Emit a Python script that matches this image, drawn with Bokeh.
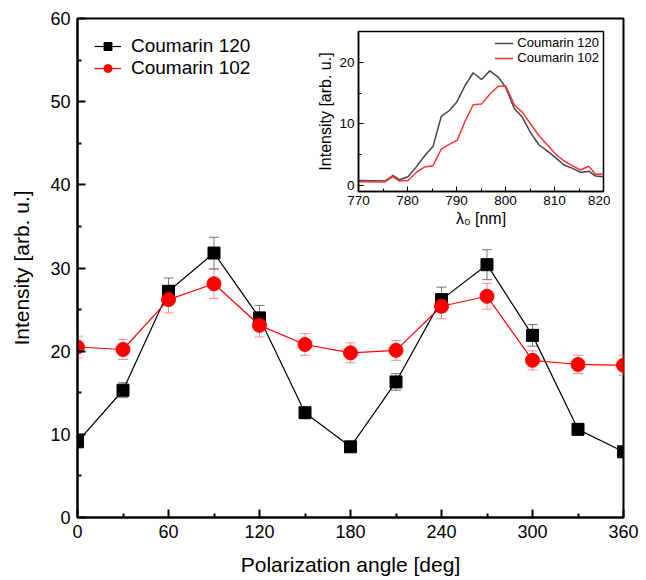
from bokeh.plotting import figure
from bokeh.models import FixedTicker, Whisker, ColumnDataSource, TeeHead, Legend, LegendItem
from bokeh.embed import file_html
from bokeh.resources import INLINE

# ---- main data ----
angles = [0, 30, 60, 90, 120, 150, 180, 210, 240, 270, 300, 330, 360]
c120 = [9.1, 15.3, 27.2, 31.8, 24.0, 12.6, 8.5, 16.3, 26.2, 30.4, 21.9, 10.6, 7.9]
c120_err = [0.5, 0.9, 1.6, 1.9, 1.5, 0.7, 0.4, 1.0, 1.5, 1.8, 1.3, 0.6, 0.5]
c102 = [20.5, 20.2, 26.2, 28.1, 23.1, 20.8, 19.8, 20.1, 25.4, 26.6, 18.9, 18.4, 18.3]
c102_err = [1.3, 1.2, 1.6, 1.75, 1.4, 1.3, 1.2, 1.2, 1.5, 1.55, 1.15, 1.1, 1.2]

# ---- inset data ----
wl = [770.0, 775.4, 777.0, 778.4, 780.1, 781.8, 783.5, 785.2, 786.9, 788.6, 790.1,
      791.8, 793.4, 795.1, 796.8, 798.5, 800.0, 801.8, 803.4, 805.1, 806.8, 808.5,
      810.2, 811.9, 813.6, 815.3, 817.0, 818.4, 820.0]
spec120 = [0.8, 0.7, 1.6, 0.9, 1.4, 3.0, 4.8, 6.3, 11.2, 12.2, 13.6, 16.3, 18.3, 17.2,
           18.6, 17.6, 16.0, 12.5, 11.1, 8.6, 6.6, 5.6, 4.5, 3.3, 2.8, 2.1, 2.3, 1.5, 1.4]
spec102 = [0.6, 0.55, 1.4, 0.7, 0.8, 2.1, 3.0, 3.2, 5.9, 6.7, 7.3, 10.5, 13.1, 13.2,
           14.8, 16.1, 16.2, 13.1, 11.9, 10.0, 8.1, 6.6, 5.1, 4.0, 3.2, 2.5, 3.1, 1.8, 1.8]

FONT = "Liberation Sans"

p = figure(width=640, height=578, x_range=(0, 360), y_range=(0, 60),
           output_backend="svg", toolbar_location=None,
           min_border_left=77, min_border_right=17, min_border_top=18, min_border_bottom=60)
p.grid.visible = False
p.outline_line_color = "black"
p.outline_line_width = 2
p.background_fill_color = "white"

for ax in (p.xaxis[0], p.yaxis[0]):
    ax.axis_line_width = 2
    ax.axis_line_color = "black"
    ax.major_tick_in = 8
    ax.major_tick_out = 0
    ax.minor_tick_in = 4
    ax.minor_tick_out = 0
    ax.major_tick_line_width = 2
    ax.minor_tick_line_width = 2
    ax.major_tick_line_color = "black"
    ax.minor_tick_line_color = "black"
    ax.major_label_text_font = FONT
    ax.major_label_text_font_size = "18px"
    ax.major_label_text_color = "black"
    ax.axis_label_text_font = FONT
    ax.axis_label_text_font_size = "21px"
    ax.axis_label_text_font_style = "normal"
    ax.axis_label_text_color = "black"
    ax.major_label_standoff = 7

p.xaxis.ticker = FixedTicker(ticks=[0, 60, 120, 180, 240, 300, 360],
                             minor_ticks=[30, 90, 150, 210, 270, 330])
p.yaxis.ticker = FixedTicker(ticks=[0, 10, 20, 30, 40, 50, 60],
                             minor_ticks=[5, 15, 25, 35, 45, 55])
p.xaxis.axis_label = "Polarization angle [deg]"
p.yaxis.axis_label = "Intensity [arb. u.]"
p.xaxis.axis_label_standoff = 12
p.yaxis.axis_label_standoff = 14

s120 = ColumnDataSource(dict(x=angles, y=c120,
                             lo=[v - e for v, e in zip(c120, c120_err)],
                             hi=[v + e for v, e in zip(c120, c120_err)]))
s102 = ColumnDataSource(dict(x=angles, y=c102,
                             lo=[v - e for v, e in zip(c102, c102_err)],
                             hi=[v + e for v, e in zip(c102, c102_err)]))

w1 = Whisker(source=s120, base="x", lower="lo", upper="hi", line_color="#555555",
             line_alpha=0.8, line_width=1,
             upper_head=TeeHead(size=10, line_color="#555555", line_alpha=0.8),
             lower_head=TeeHead(size=10, line_color="#555555", line_alpha=0.8))
w2 = Whisker(source=s102, base="x", lower="lo", upper="hi", line_color="#ff4444",
             line_alpha=0.6, line_width=1,
             upper_head=TeeHead(size=10, line_color="#ff4444", line_alpha=0.6),
             lower_head=TeeHead(size=10, line_color="#ff4444", line_alpha=0.6))
p.add_layout(w1)
p.add_layout(w2)

l1 = p.line("x", "y", source=s120, line_color="black", line_width=1.2)
m1 = p.scatter("x", "y", source=s120, marker="square", size=12, color="black")
l2 = p.line("x", "y", source=s102, line_color="red", line_width=1.2)
m2 = p.scatter("x", "y", source=s102, marker="circle", size=14, color="red")

leg = Legend(items=[LegendItem(label="Coumarin 120", renderers=[l1, m1]),
                    LegendItem(label="Coumarin 102", renderers=[l2, m2])],
             location="top_left", border_line_color=None, background_fill_alpha=0,
             label_text_font=FONT, label_text_font_size="19px", label_text_color="black",
             glyph_width=27, label_height=20, glyph_height=20, spacing=0,
             margin=17, padding=0, label_standoff=10)
p.add_layout(leg)

# ---- inset ----
ins = figure(width=296, height=208, x_range=(770, 820), y_range=(-1, 25),
             output_backend="svg", toolbar_location=None,
             min_border_left=42, min_border_right=7, min_border_top=7, min_border_bottom=41,
             styles={"position": "absolute", "left": "314px", "top": "24px"})
ins.grid.visible = False
ins.outline_line_color = "black"
ins.outline_line_width = 1.5
for ax in (ins.xaxis[0], ins.yaxis[0]):
    ax.axis_line_width = 1.5
    ax.axis_line_color = "black"
    ax.major_tick_in = 5
    ax.major_tick_out = 0
    ax.minor_tick_in = 3
    ax.minor_tick_out = 0
    ax.major_tick_line_color = "black"
    ax.minor_tick_line_color = "black"
    ax.major_label_text_font = FONT
    ax.major_label_text_font_size = "13.5px"
    ax.major_label_text_color = "black"
    ax.axis_label_text_font = FONT
    ax.axis_label_text_font_size = "16px"
    ax.axis_label_text_font_style = "normal"
    ax.axis_label_text_color = "black"
    ax.major_label_standoff = 4
    ax.axis_label_standoff = 2
ins.xaxis.ticker = FixedTicker(ticks=[770, 780, 790, 800, 810, 820],
                               minor_ticks=[775, 785, 795, 805, 815])
ins.yaxis.ticker = FixedTicker(ticks=[0, 10, 20], minor_ticks=[5, 15, 25])
ins.xaxis.axis_label = "λ₀ [nm]"
ins.yaxis.axis_label = "Intensity [arb. u.]"

il1 = ins.line(wl, spec120, line_color="#444444", line_width=1.5)
il2 = ins.line(wl, spec102, line_color="#ff3333", line_width=1.5)
ileg = Legend(items=[LegendItem(label="Coumarin 120", renderers=[il1]),
                     LegendItem(label="Coumarin 102", renderers=[il2])],
              location="top_right", border_line_color=None, background_fill_alpha=0,
              label_text_font=FONT, label_text_font_size="13px", label_text_color="black",
              glyph_width=19, glyph_height=14, spacing=0, margin=4, padding=2,
              label_standoff=4, label_height=14)
ins.add_layout(ileg)

open("out.html", "w").write(file_html([p, ins], INLINE))
